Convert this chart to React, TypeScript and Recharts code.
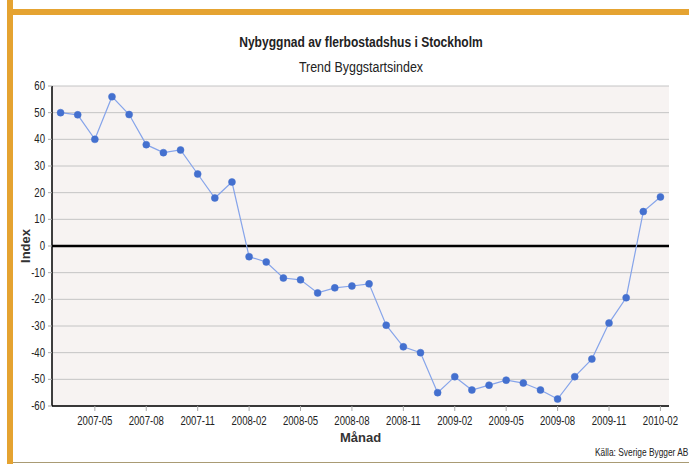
import React from "react";
import {
  LineChart,
  Line,
  XAxis,
  YAxis,
  CartesianGrid,
  ReferenceLine,
} from "recharts";

const months: string[] = [
  "2007-03", "2007-04", "2007-05", "2007-06", "2007-07", "2007-08",
  "2007-09", "2007-10", "2007-11", "2007-12", "2008-01", "2008-02",
  "2008-03", "2008-04", "2008-05", "2008-06", "2008-07", "2008-08",
  "2008-09", "2008-10", "2008-11", "2008-12", "2009-01", "2009-02",
  "2009-03", "2009-04", "2009-05", "2009-06", "2009-07", "2009-08",
  "2009-09", "2009-10", "2009-11", "2009-12", "2010-01", "2010-02",
];

const indexValues: number[] = [
  50, 49.2, 40, 56, 49.3, 38,
  35, 36, 27, 18, 24, -4,
  -6, -12, -12.7, -17.6, -15.7, -15,
  -14.2, -29.7, -37.8, -40, -55, -49,
  -54, -52.2, -50.3, -51.4, -54, -57.4,
  -49, -42.4, -28.9, -19.4, 12.9, 18.4,
];

const xTickLabels: string[] = [
  "2007-05", "2007-08", "2007-11", "2008-02", "2008-05", "2008-08",
  "2008-11", "2009-02", "2009-05", "2009-08", "2009-11", "2010-02",
];

const yTicks: number[] = [60, 50, 40, 30, 20, 10, 0, -10, -20, -30, -40, -50, -60];

const title = "Nybyggnad av flerbostadshus i Stockholm";
const subtitle = "Trend Byggstartsindex";
const xLabel = "Månad";
const yLabel = "Index";
const source = "Källa: Sverige Bygger AB";

const data = months.map((m, i) => ({ i, month: m, value: indexValues[i] }));
const xTickIdx = xTickLabels.map((l) => months.indexOf(l));

const FONT = "'Liberation Sans', Arial, sans-serif";
const ORANGE = "#e5a331";
const NARROW = 0.8;

const XTick = (props: any) => {
  const { x, y, payload } = props;
  return (
    <text
      transform={`translate(${x},${y + 11}) scale(${NARROW},1)`}
      textAnchor="middle"
      fontSize={12}
      fill="#222"
      fontFamily={FONT}
    >
      {months[payload.value] ?? ""}
    </text>
  );
};

const YTick = (props: any) => {
  const { x, y, payload } = props;
  return (
    <text
      transform={`translate(${x},${y + 4}) scale(${NARROW},1)`}
      textAnchor="end"
      fontSize={12}
      fill="#222"
      fontFamily={FONT}
    >
      {payload.value}
    </text>
  );
};

export default function App() {
  return (
    <div
      style={{
        position: "absolute",
        left: 0,
        top: 0,
        width: 689,
        height: 464,
        background: "#ffffff",
        overflow: "hidden",
        fontFamily: FONT,
      }}
    >
      <div style={{ position: "absolute", left: 7, top: 0, width: 6, height: 464, background: ORANGE }} />
      <div style={{ position: "absolute", left: 7, top: 9, width: 682, height: 6, background: ORANGE }} />
      <div style={{ position: "absolute", left: 13, top: 462, width: 676, height: 1, background: "#a99b74" }} />
      <div
        style={{
          position: "absolute",
          left: 0,
          top: 34,
          width: 722,
          textAlign: "center",
          fontSize: 14,
          fontWeight: "bold",
          color: "#222",
          whiteSpace: "nowrap",
          transform: "scaleX(0.86)",
          transformOrigin: "361px 0",
        }}
      >
        {title}
      </div>
      <div
        style={{
          position: "absolute",
          left: 0,
          top: 59,
          width: 722,
          textAlign: "center",
          fontSize: 14,
          color: "#222",
          whiteSpace: "nowrap",
          transform: "scaleX(0.89)",
          transformOrigin: "361px 0",
        }}
      >
        {subtitle}
      </div>
      <div
        style={{
          position: "absolute",
          left: 595,
          top: 446,
          fontSize: 11,
          color: "#222",
          whiteSpace: "nowrap",
          transform: "scaleX(0.76)",
          transformOrigin: "0 0",
        }}
      >
        {source}
      </div>
      <div style={{ position: "absolute", left: 0, top: 0 }}>
        <LineChart
          width={689}
          height={464}
          data={data}
          margin={{ top: 86, right: 20, bottom: 0, left: 0 }}
        >
          <CartesianGrid
            horizontal={true}
            vertical={false}
            stroke="#c4c4c4"
            fill="#f7f3f2"
          />
          <XAxis
            dataKey="i"
            type="number"
            domain={[-0.5, 35.5]}
            ticks={xTickIdx}
            interval={0}
            height={58}
            axisLine={{ stroke: "#000", strokeWidth: 1.5 }}
            tickLine={{ stroke: "#aaa" }}
            tickSize={5}
            tickMargin={3}
            tick={<XTick />}
            label={{
              value: xLabel,
              position: "insideBottom",
              offset: 22,
              style: { fontWeight: "bold", fontSize: 13, fill: "#333", fontFamily: FONT },
            }}
          />
          <YAxis
            type="number"
            domain={[-60, 60]}
            ticks={yTicks}
            interval={0}
            width={52}
            axisLine={{ stroke: "#000", strokeWidth: 1.5 }}
            tickLine={{ stroke: "#aaa" }}
            tickSize={4}
            tickMargin={3}
            tick={<YTick />}
            label={{
              value: yLabel,
              angle: -90,
              position: "insideLeft",
              offset: 25,
              style: { fontWeight: "bold", fontSize: 13, fill: "#333", fontFamily: FONT, textAnchor: "middle" },
            }}
          />
          <ReferenceLine y={0} stroke="#000" strokeWidth={2.5} />
          <Line
            type="linear"
            dataKey="value"
            stroke="#86a4ea"
            strokeWidth={1.2}
            dot={{ r: 3.5, fill: "#4470cf", stroke: "#4470cf", strokeWidth: 0.5 }}
            activeDot={false}
            isAnimationActive={false}
          />
        </LineChart>
      </div>
    </div>
  );
}
